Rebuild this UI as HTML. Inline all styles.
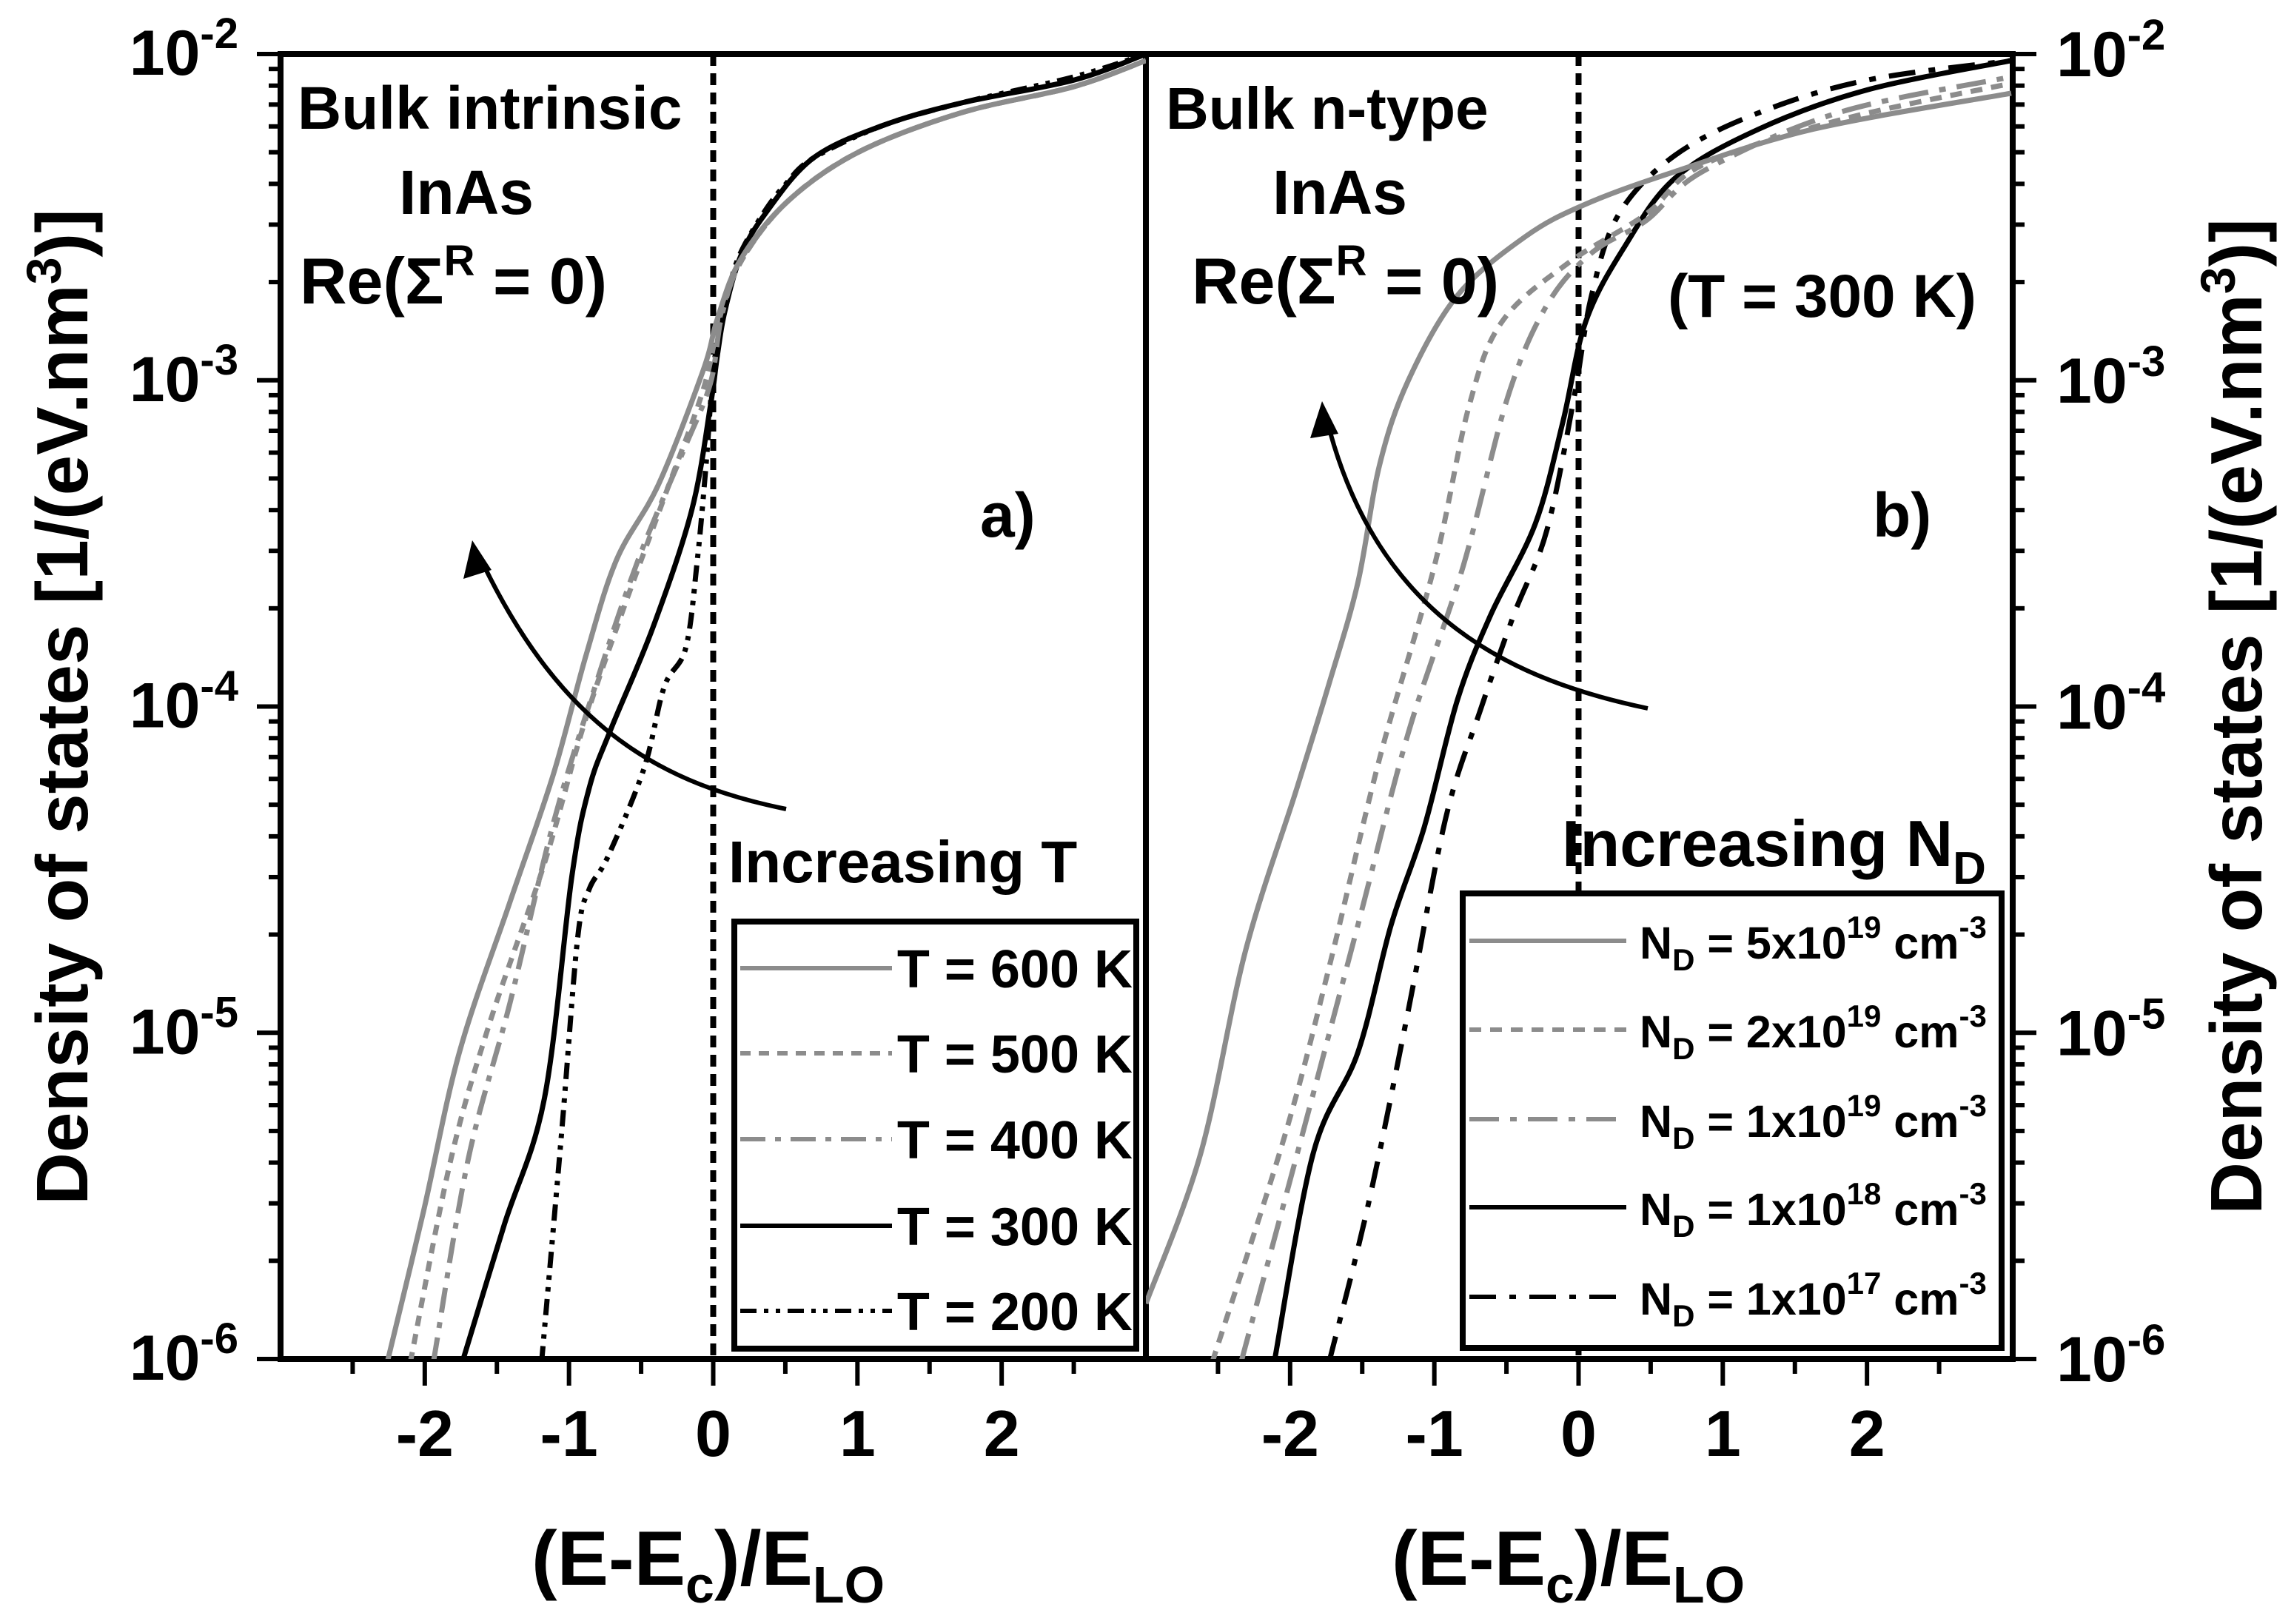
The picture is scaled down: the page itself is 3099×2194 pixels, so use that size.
<!DOCTYPE html>
<html><head><meta charset="utf-8"><style>
html,body{margin:0;padding:0;background:#fff}
svg{display:block}
text{font-family:"Liberation Sans",Arial,sans-serif;font-weight:bold;fill:#000}
</style></head><body>
<svg id="chart" width="3099" height="2194" viewBox="0 0 3099 2194" xmlns="http://www.w3.org/2000/svg">
<g id="axes"></g>
<g id="series"></g>
<g id="labels">
  <text x="402" y="174" font-size="82">Bulk intrinsic</text>
  <text x="539" y="289" font-size="84">InAs</text>
  <text x="405" y="410" font-size="88">Re(Σ<tspan font-size="58" dy="-38">R</tspan><tspan dy="38"> = 0)</tspan></text>
  <text x="1324" y="725" font-size="84">a)</text>
  <text x="1575" y="174" font-size="80">Bulk n-type</text>
  <text x="1719" y="289" font-size="84">InAs</text>
  <text x="1610" y="410" font-size="88">Re(Σ<tspan font-size="58" dy="-38">R</tspan><tspan dy="38"> = 0)</tspan></text>
  <text x="2253" y="428" font-size="82">(T = 300 K)</text>
  <text x="2530" y="725" font-size="84">b)</text>
  <text x="984" y="1192" font-size="80">Increasing T</text>
  <text x="2110" y="1170" font-size="88">Increasing N<tspan font-size="62" dy="24">D</tspan></text>
  <text x="718" y="2141" font-size="104">(E-E<tspan font-size="70" dy="24">c</tspan><tspan dy="-24">)/E</tspan><tspan font-size="70" dy="24">LO</tspan></text>
  <text x="1880" y="2141" font-size="104">(E-E<tspan font-size="70" dy="24">c</tspan><tspan dy="-24">)/E</tspan><tspan font-size="70" dy="24">LO</tspan></text>
  <text transform="translate(118,955) rotate(-90)" text-anchor="middle" font-size="98">Density of states [1/(eV.nm<tspan font-size="66" dy="-36">3</tspan><tspan dy="36">)]</tspan></text>
  <text transform="translate(3055,968) rotate(-90)" text-anchor="middle" font-size="98">Density of states [1/(eV.nm<tspan font-size="66" dy="-36">3</tspan><tspan dy="36">)]</tspan></text>
</g>
<g id="legends"></g>
</svg>
<script>
// ---- data (x = (E-Ec)/ELO, y = log10 DOS) ----
const xTicks = [-2, -1, 0, 1, 2];
const yDecades = [-2, -3, -4, -5, -6];
const t600X = [-2.26, -2.01, -1.76, -1.41, -1.11, -0.88, -0.67, -0.38, -0.07, 0.03, 0.19, 0.52, 1.01, 1.72, 2.5, 3.0];
const t600Y = [-6.01, -5.55, -5.06, -4.60, -4.21, -3.84, -3.55, -3.32, -2.97, -2.81, -2.63, -2.45, -2.30, -2.18, -2.10, -2.02];
const t500X = [-2.10, -1.82, -1.55, -1.17, -0.90, -0.63, -0.34, -0.07, 0.05, 0.2, 0.52, 1.01, 1.72, 2.5, 3.0];
const t500Y = [-6.01, -5.39, -4.97, -4.48, -4.06, -3.71, -3.36, -3.03, -2.80, -2.63, -2.45, -2.30, -2.18, -2.10, -2.02];
const t400X = [-1.94, -1.70, -1.41, -1.11, -0.82, -0.52, -0.21, -0.02, 0.06, 0.2, 0.52, 1.01, 1.72, 2.5, 3.0];
const t400Y = [-6.01, -5.39, -4.91, -4.36, -3.94, -3.55, -3.22, -3.01, -2.80, -2.63, -2.45, -2.30, -2.18, -2.10, -2.02];
const t300X = [-1.74, -1.45, -1.17, -0.98, -0.86, -0.71, -0.42, -0.15, -0.02, 0.03, 0.08, 0.19, 0.36, 0.69, 1.17, 1.72, 2.5, 3.0];
const t300Y = [-6.01, -5.59, -5.20, -4.52, -4.25, -4.07, -3.76, -3.40, -3.08, -2.92, -2.79, -2.62, -2.49, -2.32, -2.22, -2.15, -2.08, -2.00];
const t200X = [-1.19, -1.05, -0.94, -0.86, -0.73, -0.48, -0.34, -0.19, -0.11, -0.05, 0.0, 0.05, 0.12, 0.2, 0.36, 0.5, 0.69, 1.17, 1.72, 2.5, 3.0];
const t200Y = [-6.01, -5.30, -4.71, -4.56, -4.46, -4.19, -3.94, -3.82, -3.55, -3.26, -2.97, -2.85, -2.70, -2.60, -2.48, -2.40, -2.32, -2.22, -2.15, -2.07, -2.00];
const n5e19X = [-3.0, -2.62, -2.31, -1.96, -1.73, -1.53, -1.38, -1.18, -0.84, -0.37, 0.05, 0.67, 1.63, 3.0];
const n5e19Y = [-5.83, -5.37, -4.75, -4.26, -3.93, -3.62, -3.26, -3.00, -2.74, -2.56, -2.46, -2.36, -2.23, -2.12];
const n2e19X = [-2.54, -2.04, -1.73, -1.38, -1.0, -0.76, -0.53, -0.07, 0.47, 0.86, 1.83, 3.0];
const n2e19Y = [-6.01, -5.32, -4.80, -4.16, -3.57, -3.08, -2.82, -2.64, -2.49, -2.34, -2.20, -2.09];
const n1e19X = [-2.34, -1.92, -1.53, -1.18, -0.8, -0.49, -0.22, 0.09, 0.47, 0.86, 1.8, 3.0];
const n1e19Y = [-6.01, -5.32, -4.67, -4.08, -3.57, -3.05, -2.77, -2.61, -2.51, -2.36, -2.18, -2.07];
const n1e18X = [-2.11, -1.84, -1.53, -1.30, -1.07, -0.84, -0.61, -0.30, -0.11, 0.05, 0.32, 0.67, 1.25, 2.0, 3.0];
const n1e18Y = [-6.01, -5.37, -5.06, -4.67, -4.37, -3.98, -3.72, -3.44, -3.13, -2.82, -2.59, -2.38, -2.23, -2.11, -2.02];
const n1e17X = [-1.73, -1.46, -1.18, -0.92, -0.68, -0.45, -0.22, -0.03, 0.09, 0.28, 0.67, 1.25, 2.0, 3.0];
const n1e17Y = [-6.01, -5.53, -4.93, -4.34, -4.01, -3.72, -3.46, -3.05, -2.74, -2.49, -2.31, -2.18, -2.08, -2.02];
const legendA = ["T = 600 K", "T = 500 K", "T = 400 K", "T = 300 K", "T = 200 K"];
const legendB = ["5x10", "2x10", "1x10", "1x10", "1x10"];
const legendBExp = ["19", "19", "19", "18", "17"];

// ---- geometry ----
const NS = "http://www.w3.org/2000/svg";
const TOP = 73, BOT = 1836, LEFT_A = 379, MID = 1548, RIGHT_B = 2719;
const UNIT = (MID - LEFT_A) / 6;
function xA(v){ return LEFT_A + (v + 3) * UNIT; }
function xB(v){ return MID + (v + 3) * UNIT; }
function yS(l){ return TOP + (-2 - l) * (BOT - TOP) / 4; }
function mk(tag, attrs, parent){ const e = document.createElementNS(NS, tag); for (const k in attrs) e.setAttribute(k, attrs[k]); parent.appendChild(e); return e; }
const axes = document.getElementById('axes');
const series = document.getElementById('series');
const legends = document.getElementById('legends');

let fa = mk('rect', {x: LEFT_A, y: TOP, width: MID - LEFT_A, height: BOT - TOP, fill: 'none', stroke: '#000', 'stroke-width': 8}, axes);


let fb = mk('rect', {x: MID, y: TOP, width: RIGHT_B - MID, height: BOT - TOP, fill: 'none', stroke: '#000', 'stroke-width': 8}, axes);



[[xA, 'a'], [xB, 'b']].forEach(([fx, p]) => {
  for (let v = -2.5; v <= 2.51; v += 0.5) {
    const major = Math.abs(v - Math.round(v)) < 0.01;
    const t = mk('line', {x1: fx(v), x2: fx(v), y1: BOT, y2: BOT + (major ? 36 : 20), stroke: '#000', 'stroke-width': 6}, axes);
    
    
  }
  xTicks.forEach(v => {
    const t = mk('text', {x: fx(v), y: 1967, 'font-size': 88, 'text-anchor': 'middle'}, axes);
    t.textContent = String(v);
    
    
  });
  const d = mk('line', {x1: fx(0), x2: fx(0), y1: TOP, y2: BOT, stroke: '#000', 'stroke-width': 8, 'stroke-dasharray': '16 10'}, axes);
  
  
});

yDecades.forEach(dec => {
  for (let m = 1; m <= 9; m++) {
    if (dec === -2 && m > 1) break;
    const l = dec + Math.log10(m);
    const y = yS(l);
    const len = m === 1 ? 32 : 16;
    const tl = mk('line', {x1: LEFT_A - len, x2: LEFT_A, y1: y, y2: y, stroke: '#000', 'stroke-width': 6}, axes);
    
    
    const tr = mk('line', {x1: RIGHT_B, x2: RIGHT_B + len, y1: y, y2: y, stroke: '#000', 'stroke-width': 6}, axes);
    
    
  }
  const y = yS(dec);
  const lt = mk('text', {x: 322, y: y + 28, 'font-size': 86, 'text-anchor': 'end'}, axes);
  lt.innerHTML = '10<tspan font-size="58" dy="-36">' + dec + '</tspan>';
  
  
  const rt = mk('text', {x: 2778, y: y + 30, 'font-size': 86}, axes);
  rt.innerHTML = '10<tspan font-size="58" dy="-36">' + dec + '</tspan>';
  
  
});

const GRAY = '#8c8c8c';
const styleA = [
  {xs: t600X, ys: t600Y, c: GRAY, d: '', n: 'line-t600'},
  {xs: t500X, ys: t500Y, c: GRAY, d: '14 11', n: 'line-t500'},
  {xs: t400X, ys: t400Y, c: GRAY, d: '34 13 8 13', n: 'line-t400'},
  {xs: t300X, ys: t300Y, c: '#000', d: '', n: 'line-t300'},
  {xs: t200X, ys: t200Y, c: '#000', d: '22 10 6 10 6 10', n: 'line-t200'}
];
const styleB = [
  {xs: n5e19X, ys: n5e19Y, c: GRAY, d: '', n: 'line-nd-5e19'},
  {xs: n2e19X, ys: n2e19Y, c: GRAY, d: '16 12', n: 'line-nd-2e19'},
  {xs: n1e19X, ys: n1e19Y, c: GRAY, d: '40 15 9 15', n: 'line-nd-1e19'},
  {xs: n1e18X, ys: n1e18Y, c: '#000', d: '', n: 'line-nd-1e18'},
  {xs: n1e17X, ys: n1e17Y, c: '#000', d: '36 18 9 18', n: 'line-nd-1e17'}
];
function smoothPath(pts){
  let d = 'M' + pts[0][0] + ',' + pts[0][1];
  for (let i = 0; i < pts.length - 1; i++) {
    const p0 = pts[Math.max(0, i - 1)], p1 = pts[i], p2 = pts[i + 1], p3 = pts[Math.min(pts.length - 1, i + 2)];
    const c1x = p1[0] + (p2[0] - p0[0]) / 6, c1y = p1[1] + (p2[1] - p0[1]) / 6;
    const c2x = p2[0] - (p3[0] - p1[0]) / 6, c2y = p2[1] - (p3[1] - p1[1]) / 6;
    d += ' C' + c1x + ',' + c1y + ' ' + c2x + ',' + c2y + ' ' + p2[0] + ',' + p2[1];
  }
  return d;
}
function draw(list, fx, clipId){
  list.slice().reverse().forEach(s => {
    const pts = s.xs.map((x, i) => [fx(x), yS(Math.max(s.ys[i], -6.05))]);
    const p = mk('path', {d: smoothPath(pts), fill: 'none', stroke: s.c, 'stroke-width': 7, 'stroke-dasharray': s.d, 'clip-path': 'url(#' + clipId + ')'}, series);
    
    
  });
}
const defs = mk('defs', {}, series);
const ca = mk('clipPath', {id: 'clipA'}, defs); mk('rect', {x: LEFT_A, y: TOP, width: MID - LEFT_A, height: BOT - TOP}, ca);
const cb = mk('clipPath', {id: 'clipB'}, defs); mk('rect', {x: MID, y: TOP, width: RIGHT_B - MID, height: BOT - TOP}, cb);
draw(styleA, xA, 'clipA');
draw(styleB, xB, 'clipB');

const arA = mk('path', {d: 'M1062,1093 C900,1060 760,990 648,752', fill: 'none', stroke: '#000', 'stroke-width': 6}, series);


const hA = mk('polygon', {points: '638,730 626,782 664,770', fill: '#000'}, series);


const arB = mk('path', {d: 'M2226,957 C2050,920 1860,840 1792,565', fill: 'none', stroke: '#000', 'stroke-width': 6}, series);


const hB = mk('polygon', {points: '1786,542 1770,592 1808,586', fill: '#000'}, series);



const lbA = mk('rect', {x: 992, y: 1245, width: 543, height: 577, fill: '#fff', stroke: '#000', 'stroke-width': 8}, legends);


const lyA = [1308, 1423, 1539, 1656, 1771];
legendA.forEach((t, i) => {
  const s = styleA[i];
  const ln = mk('line', {x1: 1000, x2: 1205, y1: lyA[i], y2: lyA[i], stroke: s.c, 'stroke-width': 6, 'stroke-dasharray': s.d}, legends);
  
  
  const tx = mk('text', {x: 1530, y: lyA[i] + 26, 'font-size': 72, 'text-anchor': 'end'}, legends);
  tx.textContent = t;
  
  
});
const lbB = mk('rect', {x: 1976, y: 1207, width: 728, height: 614, fill: '#fff', stroke: '#000', 'stroke-width': 8}, legends);


const lyB = [1271, 1391, 1512, 1631, 1752];
legendB.forEach((t, i) => {
  const s = styleB[i];
  const ln = mk('line', {x1: 1985, x2: 2197, y1: lyB[i], y2: lyB[i], stroke: s.c, 'stroke-width': 6, 'stroke-dasharray': s.d}, legends);
  
  
  const tx = mk('text', {x: 2215, y: lyB[i] + 24, 'font-size': 61}, legends);
  tx.innerHTML = 'N<tspan font-size="42" dy="16">D</tspan><tspan dy="-16"> = ' + t + '</tspan><tspan font-size="42" dy="-28">' + legendBExp[i] + '</tspan><tspan dy="28"> cm</tspan><tspan font-size="42" dy="-28">-3</tspan>';
  
  
});
</script>
</body></html>
